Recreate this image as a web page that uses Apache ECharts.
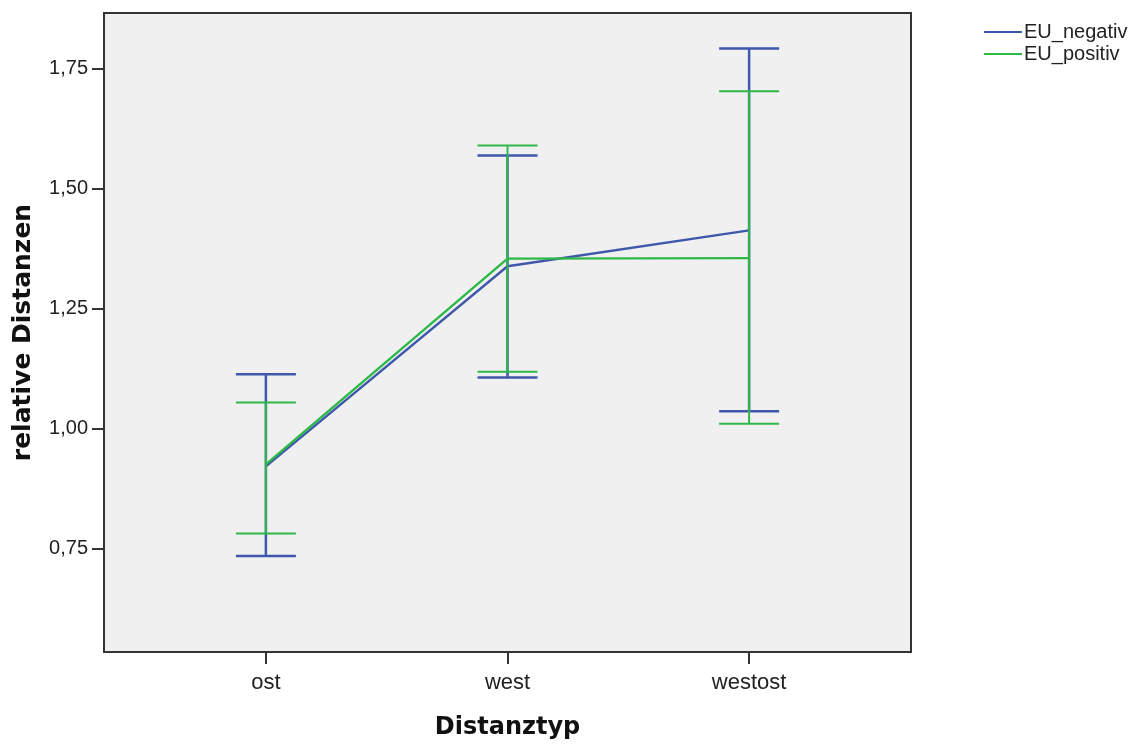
<!DOCTYPE html>
<html>
<head>
<meta charset="utf-8">
<script src="https://cdn.jsdelivr.net/npm/echarts@6/dist/echarts.min.js"></script>
<style>
html,body{margin:0;padding:0;background:#fff;}
#chart{width:1141px;height:744px;}
</style>
</head>
<body>
<div id="chart"></div>
<script>
// categories and values
var categories = ['ost', 'west', 'westost'];
var negMean = [0.921, 1.338, 1.413];
var negLow  = [0.734, 1.106, 1.036];
var negHigh = [1.113, 1.569, 1.792];
var posMean = [0.925, 1.354, 1.355];
var posLow  = [0.781, 1.118, 1.010];
var posHigh = [1.054, 1.590, 1.703];
var yTicks = [0.75, 1.00, 1.25, 1.50, 1.75];
var xTicks = [1, 2, 3];

var BLUE = '#3E58AC', GREEN = '#2EB848';

var myChart = echarts.init(document.getElementById('chart'));

function lineSeries(name, vals, color, z) {
	return {
		name: name,
		type: 'line',
		symbol: 'none',
		z: z,
		lineStyle: { color: color, width: 2.4 },
		itemStyle: { color: color },
		data: vals.map(function (v, i) { return [i + 1, v]; })
	};
}

function barSeries(name, lo, hi, color, w, z) {
	return {
		name: name,
		type: 'custom',
		z: z,
		itemStyle: { color: color },
		data: lo.map(function (v, i) { return [i + 1, v, hi[i]]; }),
		renderItem: function (params, api) {
			var x = api.value(0);
			var a = api.coord([x, api.value(1)]);
			var b = api.coord([x, api.value(2)]);
			var hw = 30;
			var st = { stroke: color, lineWidth: w };
			return {
				type: 'group',
				children: [
					{ type: 'line', shape: { x1: a[0], y1: a[1], x2: b[0], y2: b[1] }, style: st },
					{ type: 'line', shape: { x1: a[0] - hw, y1: a[1], x2: a[0] + hw, y2: a[1] }, style: st },
					{ type: 'line', shape: { x1: b[0] - hw, y1: b[1], x2: b[0] + hw, y2: b[1] }, style: st }
				]
			};
		}
	};
}

var option = {
	animation: false,
	backgroundColor: '#fff',
	grid: {
		left: 104, top: 13, right: 230, bottom: 92,
		outerBoundsMode: 'none',
		show: true,
		backgroundColor: '#f0f0f0',
		borderColor: '#333',
		borderWidth: 2
	},
	legend: {
		orient: 'vertical',
		left: 979, top: 17,
		icon: 'rect',
		itemWidth: 38, itemHeight: 2,
		itemGap: 2,
		data: ['EU_negativ', 'EU_positiv'],
		textStyle: { fontFamily: 'Liberation Sans', fontSize: 20, color: '#222', lineHeight: 20, padding: [0, 0, 0, -3] }
	},
	xAxis: {
		type: 'value',
		min: 0.33, max: 3.67,
		name: 'Distanztyp',
		nameLocation: 'middle',
		nameGap: 64,
		nameTextStyle: { fontFamily: 'DejaVu Sans', fontWeight: 'bold', fontSize: 24, color: '#111' },
		axisLine: { show: true, lineStyle: { color: '#333', width: 2 } },
		axisTick: { show: true, length: 12, customValues: xTicks, lineStyle: { color: '#333', width: 2 } },
		axisLabel: {
			customValues: xTicks, margin: 20,
			fontFamily: 'Liberation Sans', fontSize: 22, color: '#222',
			formatter: function (v) { return categories[Math.round(v) - 1]; }
		},
		splitLine: { show: false }
	},
	yAxis: {
		type: 'value',
		min: 0.534, max: 1.866,
		name: 'relative Distanzen',
		nameLocation: 'middle',
		nameGap: 68,
		nameTextStyle: { fontFamily: 'DejaVu Sans', fontWeight: 'bold', fontSize: 25, color: '#111' },
		axisLine: { show: true, lineStyle: { color: '#333', width: 2 } },
		axisTick: { show: true, length: 12, customValues: yTicks, lineStyle: { color: '#333', width: 2 } },
		axisLabel: {
			customValues: yTicks, margin: 16,
			fontFamily: 'Liberation Sans', fontSize: 20, color: '#222',
			formatter: function (v) { return v.toFixed(2).replace('.', ','); }
		},
		splitLine: { show: false }
	},
	series: [
		lineSeries('EU_negativ', negMean, BLUE, 3),
		lineSeries('EU_positiv', posMean, GREEN, 5),
		barSeries('EU_negativ', negLow, negHigh, BLUE, 2.5, 2),
		barSeries('EU_positiv', posLow, posHigh, GREEN, 2, 4)
	]
};
myChart.setOption(option);
</script>
</body>
</html>
